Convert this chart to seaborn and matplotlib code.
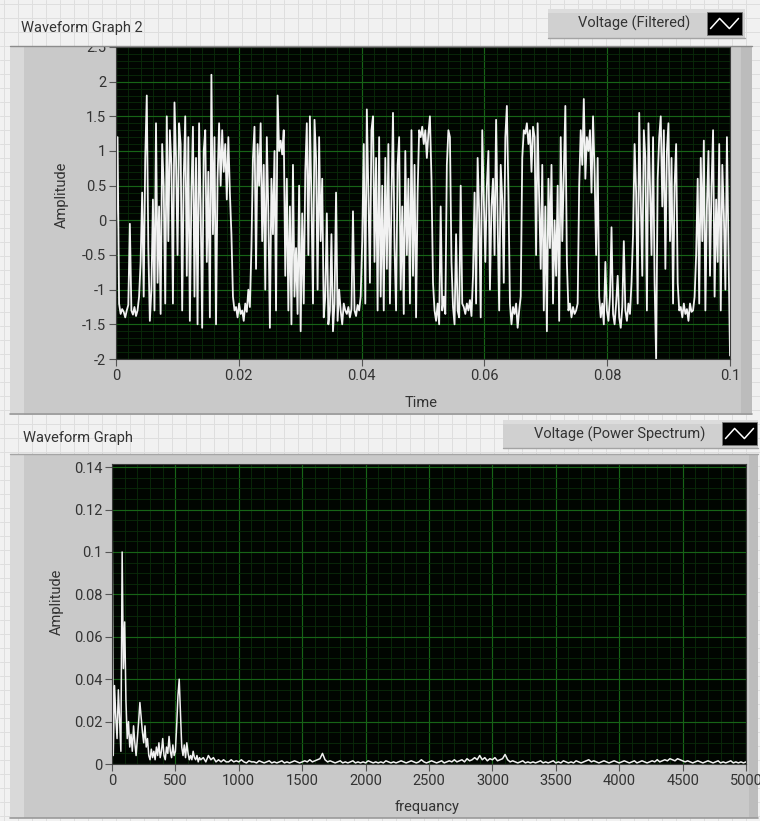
import numpy as np
import matplotlib
matplotlib.use("Agg")
import matplotlib.pyplot as plt
import seaborn as sns
from matplotlib.patches import Rectangle
from matplotlib.lines import Line2D
from matplotlib.ticker import MultipleLocator, FuncFormatter

# ---------------- data ----------------
time_end = 0.1
filtered_voltage = [
    -0.2, 1.2,
    -1.2, -1.35, -1.28, -1.32, -1.4, -1.3, -1.22, -0.05, -1.3, -1.36, -1.25, -1.38, -1.3, -1.1,
    -0.6, 0.4, -1.1, 0.9, 1.8, -0.4, -1.45, -1.0, 0.3, -1.3, 1.4, -0.9, 0.2, -1.35, 1.1, 0.5, -1.2,
    1.5, -0.3, 1.3, 0.8, -1.2, 1.7, 0.9, -0.5, 1.4, 1.1, -1.3, 0.6, 1.5, -0.8, 1.2, -1.45, 0.4,
    1.35, -1.1, 0.9, -1.5, 1.4, 0.2, -1.55, 1.0, 1.3, -0.6, 0.7, -1.4, 2.1, -0.2, 1.2, -1.5, 0.6, 1.4,
    0.5, 1.3, 0.7, 1.1, 0.3, 1.2, 0.4, -0.2,
    -1.1, -1.3, -1.25, -1.4, -1.2, -1.35, -1.3, -1.45, -1.2, -1.32, -1.0, -1.25,
    -0.4, 0.9, 1.35, -0.7, 1.1, 0.5, 1.4, -0.3, 0.8, -1.0, 1.2, 0.1,
    -1.55, 0.6, -0.2, 1.0, -1.3,
    1.8, 1.0, 1.15, 0.95, 1.3,
    -0.8, 0.6, -1.3, 0.2, -1.5, 0.8, -1.1, -0.4, -1.35, 0.5, -1.6, 0.1, -1.2, 0.7,
    1.4, -0.5, 1.5, 0.3, -1.2, 1.45, 0.9, -1.0, 1.2, -0.3, 0.6, -1.4,
    -1.1, 0.1, -1.5, -1.3, -0.2, -1.6, -1.2, 0.4, -1.45, -1.0, -1.3, -1.5,
    -1.2, -1.3, -1.35, -1.25, -1.4, -1.28, 0.13, -1.3, -1.38, -1.22, -1.3, -1.1,
    -0.3, 1.1, -1.2, 1.6, 0.4, -0.9, 1.3, 1.5, -0.6, 0.9, -1.3, 1.2,
    -1.1, 0.5, -1.3, 0.9, -0.7, 1.1, -1.2, 0.3, 1.55, -0.4, -1.3, 0.8, 1.2,
    -1.0, 0.2, -1.35, 1.0, -0.5, 0.6, -1.2, 1.3, -0.8, 0.8, -1.4, 0.4, 1.3,
    1.2, 1.35, 1.1, 1.3, 0.9, 1.25, 1.5, 0.6,
    -0.9, -1.3, -1.45, -1.2, -1.5, 0.2, -1.3, -1.1, -1.35, 0.8, 1.3, 1.2, -0.6, -1.25, -1.5, -0.2,
    -1.3, -1.4, 0.5, -1.2,
    -1.25, -1.35, -1.2, -1.3, -1.15, -1.38,
    -0.8, 0.4, -1.2, 0.9, 0.1, -1.4, 1.3, 0.3, -0.6, 0.5, 1.0, -1.0, 0.2, 0.6, -0.5, 1.45,
    0.0, -1.3, 0.8, 0.3, -0.9, 1.2, 1.65, 0.4,
    -1.2, -1.5, -1.25, -1.35, -1.2, -1.55, -1.3, -1.1,
    0.9, 1.3, 1.25, 1.4, 1.1, 1.3, 0.7, 1.35, 1.2, -0.5, 1.4, 0.3,
    -0.7, 0.8, -1.3, 0.2, -1.6, 0.6, -0.4, 0.8, -1.2, 0.0, -0.8, 0.5, -1.45, 1.2, -0.3, 0.7, 1.65, -0.6,
    -1.3, -1.2, -1.4, -1.25, -1.35, -1.3, -1.2,
    0.5, 1.3, 0.8, 1.75, 0.6, 1.2, 1.0, 1.3, 0.4, 1.5, 0.7, -0.5, 0.9,
    -1.1, -1.4, -1.2, -1.5, -0.6, -1.3, -1.45, -1.1, -0.1, -1.35, -1.5, -1.2, -0.8, -1.4, -1.55,
    -1.25, -0.3, -1.3, -1.45, -1.2, -1.35, -0.9,
    -0.2, 1.1, 0.4, -1.2, 1.55, 0.3, -0.8, 1.3, 0.9, -1.3, 1.4, 0.5, -0.5, 1.2, -0.9,
    -2.0,
    0.6, 1.2, 1.5, 0.2, 1.3, -0.7, 1.0, 1.4, -0.3, 0.9, -1.2, 0.5, 1.1, -0.9,
    -1.3, -1.25, -1.4, -1.2, -1.35, -1.28, -1.45, -1.2, -1.32, -1.3, -1.1,
    -0.5, 0.6, -1.2, 0.9, -0.3, 1.15, -1.3, 0.2, 1.0, -0.8, 0.5, 1.3, -1.1, 0.3, -0.6, 1.1,
    -1.3, 0.8, 0.1, -1.0, 1.2, -0.4,
    -1.95,
]

# power spectrum, 0..700 Hz in 10 Hz steps
spec_low_step = 10
spec_low = [
    0.134, 0.004, 0.037, 0.022, 0.012, 0.035, 0.020, 0.006, 0.100, 0.045,
    0.067, 0.030, 0.012, 0.020, 0.008, 0.014, 0.006, 0.018, 0.010, 0.004,
    0.012, 0.020, 0.029, 0.022, 0.015, 0.010, 0.018, 0.008, 0.012, 0.004,
    0.002, 0.007, 0.003, 0.006, 0.002, 0.008, 0.004, 0.010, 0.003, 0.006,
    0.012, 0.004, 0.002, 0.008, 0.005, 0.013, 0.006, 0.003, 0.009, 0.004,
    0.006, 0.018, 0.032, 0.040, 0.024, 0.008, 0.004, 0.009, 0.003, 0.010,
    0.005, 0.002, 0.004, 0.002, 0.006, 0.003, 0.002, 0.004, 0.001, 0.003,
    0.002,
]
# power spectrum, 720..5000 Hz in 20 Hz steps
spec_high_start = 720
spec_high_step = 20
spec_high = [
    0.003, 0.001, 0.004, 0.002, 0.003, 0.001, 0.002, 0.001, 0.002, 0.001,
    0.001, 0.002, 0.001, 0.0015, 0.001, 0.002, 0.001, 0.0005, 0.0015, 0.001,
    0.001, 0.0005, 0.0015, 0.001, 0.0005, 0.001, 0.0015, 0.0005, 0.001, 0.0005,
    0.001, 0.0015, 0.0005, 0.001, 0.0005, 0.001, 0.0015, 0.001, 0.0005, 0.001,
    0.0015, 0.001, 0.002, 0.001, 0.0015, 0.002, 0.0025, 0.005, 0.002, 0.001,
    0.0015, 0.001, 0.0005, 0.001, 0.0015, 0.0005, 0.001, 0.0005, 0.001, 0.0015,
    0.0005, 0.001, 0.0005, 0.001, 0.0005, 0.0015, 0.001, 0.0005, 0.001, 0.0005,
    0.001, 0.0005, 0.0015, 0.001, 0.0005, 0.001, 0.0005, 0.001, 0.0015, 0.001,
    0.0005, 0.001, 0.0015, 0.001, 0.0005, 0.001, 0.002, 0.001, 0.0005, 0.001,
    0.0015, 0.001, 0.0005, 0.001, 0.0015, 0.0005, 0.001, 0.0015, 0.001, 0.002,
    0.001, 0.0015, 0.002, 0.001, 0.0025, 0.0015, 0.002, 0.003, 0.002, 0.004,
    0.002, 0.003, 0.0015, 0.0025, 0.002, 0.003, 0.0015, 0.002, 0.0025, 0.0045,
    0.002, 0.001, 0.0015, 0.001, 0.0005, 0.001, 0.0015, 0.0005, 0.001, 0.0005,
    0.001, 0.0005, 0.001, 0.0015, 0.0005, 0.001, 0.0005, 0.001, 0.0015, 0.0005,
    0.001, 0.0005, 0.0015, 0.001, 0.0005, 0.001, 0.0005, 0.0015, 0.001, 0.0005,
    0.001, 0.0015, 0.002, 0.001, 0.0015, 0.001, 0.0005, 0.001, 0.0015, 0.001,
    0.0005, 0.001, 0.0015, 0.001, 0.0005, 0.001, 0.0015, 0.001, 0.0005, 0.001,
    0.0015, 0.0005, 0.001, 0.0015, 0.001, 0.0005, 0.001, 0.0015, 0.001, 0.002,
    0.001, 0.0015, 0.002, 0.0015, 0.0025, 0.002, 0.0015, 0.0025, 0.002, 0.0015,
    0.001, 0.0015, 0.001, 0.0005, 0.001, 0.0015, 0.001, 0.0005, 0.001, 0.0015,
    0.001, 0.0005, 0.001, 0.0015, 0.0005, 0.001, 0.0005, 0.001, 0.0015, 0.0005,
    0.001, 0.0005, 0.001, 0.0005, 0.001,
]

top_title = "Waveform Graph 2"
bottom_title = "Waveform Graph"
top_legend = "Voltage (Filtered)"
bottom_legend = "Voltage (Power Spectrum)"

# ---------------- derived axes ----------------
time = np.linspace(0, time_end, len(filtered_voltage))
freq = np.concatenate([spec_low_step * np.arange(len(spec_low)),
                       spec_high_start + spec_high_step * np.arange(len(spec_high))])
power = np.concatenate([spec_low, spec_high])

# ---------------- style ----------------
sns.set_style("dark")
plt.rcParams['font.family'] = ['Roboto', 'DejaVu Sans']

W, H = 760, 821
fig = plt.figure(figsize=(W / 100, H / 100), dpi=100)
BG = '#f1f1f1'
fig.patch.set_facecolor(BG)
TXT = '#333333'


def prect(x0, y0, x1, y1, **kw):
    r = Rectangle((x0 / W, 1 - y1 / H), (x1 - x0) / W, (y1 - y0) / H,
                  transform=fig.transFigure, **kw)
    fig.add_artist(r)
    return r


def pline(xs, ys, **kw):
    ln = Line2D([x / W for x in xs], [1 - y / H for y in ys],
                transform=fig.transFigure, **kw)
    fig.add_artist(ln)
    return ln


# front-panel grid background
GRID_BG = '#dedede'
for gx in range(4, W, 14):
    pline([gx, gx], [0, H], color=GRID_BG, lw=0.7, zorder=-9)
for gy in range(4, H, 14):
    pline([0, W], [gy, gy], color=GRID_BG, lw=0.7, zorder=-9)

# panel bodies
prect(10, 46, 752, 415, facecolor='#c9c9c9', edgecolor='none', zorder=-5)
prect(10, 46, 24, 415, facecolor='#d9d9d9', edgecolor='none', zorder=-4)
prect(741, 46, 752, 415, facecolor='#bcbcbc', edgecolor='none', zorder=-4)
pline([10, 752], [414.5, 414.5], color='#9a9a9a', lw=1.2, zorder=-3)

prect(10, 454, 758, 818, facecolor='#c9c9c9', edgecolor='none', zorder=-5)
prect(10, 454, 24, 818, facecolor='#d9d9d9', edgecolor='none', zorder=-4)
prect(749, 454, 758, 818, facecolor='#bcbcbc', edgecolor='none', zorder=-4)
pline([10, 758], [817.5, 817.5], color='#9a9a9a', lw=1.2, zorder=-3)

# cover strip above the top graph (clips the "2.5" label like the original)
prect(0, 0, W, 46, facecolor=BG, edgecolor='none', zorder=2)
for gx in range(4, W, 14):
    pline([gx, gx], [0, 46], color=GRID_BG, lw=0.7, zorder=2.1)
for gy in range(4, 46, 14):
    pline([0, W], [gy, gy], color=GRID_BG, lw=0.7, zorder=2.1)
pline([10, 752], [46, 46], color='#8c8c8c', lw=1.0, zorder=2.2)
pline([10, 758], [454, 454], color='#a5a5a5', lw=1.0, zorder=-3)

# axes
ax1 = fig.add_axes([116 / W, 1 - 359 / H, 614 / W, 312 / H])
ax2 = fig.add_axes([112 / W, 1 - 764 / H, 634 / W, 300 / H])


def fmt(v, p):
    return f"{round(v, 6) + 0.0:g}"


for ax in (ax1, ax2):
    ax.set_facecolor('#010501')
    ax.set_axisbelow(True)
    ax.grid(which='major', color='#176417', lw=0.85)
    ax.grid(which='minor', color='#0a2c0a', lw=0.6)
    for s in ax.spines.values():
        s.set_color('#3a3a3a')
        s.set_linewidth(0.8)
    ax.tick_params(which='major', direction='out', length=5, width=0.8, color='#555555',
                   labelsize=10.5, labelcolor=TXT, bottom=True, left=True, pad=2)
    ax.tick_params(which='minor', length=0, bottom=False, left=False)
    ax.xaxis.set_major_formatter(FuncFormatter(fmt))
    ax.yaxis.set_major_formatter(FuncFormatter(fmt))

sns.lineplot(x=time, y=filtered_voltage, ax=ax1, color='#f2f2f2', linewidth=1.3, estimator=None)
ax1.set_xlim(0, 0.1)
ax1.set_ylim(-2, 2.5)
ax1.xaxis.set_major_locator(MultipleLocator(0.02))
ax1.xaxis.set_minor_locator(MultipleLocator(0.002))
ax1.yaxis.set_major_locator(MultipleLocator(0.5))
ax1.yaxis.set_minor_locator(MultipleLocator(0.1))
ax1.set_xlabel("Time", fontsize=10.5, color=TXT, va='center')
ax1.set_ylabel("Amplitude", fontsize=10.5, color=TXT, va='center', ha='center')
ax1.xaxis.set_label_coords(0.497, -0.141)
ax1.yaxis.set_label_coords(-0.088, 0.525)

sns.lineplot(x=freq, y=power, ax=ax2, color='#f0f0f0', linewidth=1.1, estimator=None)
ax2.set_xlim(0, 5000)
ax2.set_ylim(0, 0.1415)
ax2.xaxis.set_major_locator(MultipleLocator(500))
ax2.xaxis.set_minor_locator(MultipleLocator(100))
ax2.yaxis.set_major_locator(MultipleLocator(0.02))
ax2.yaxis.set_minor_locator(MultipleLocator(0.005))
ax2.set_xlabel("frequancy", fontsize=10.5, color=TXT, va='center')
ax2.set_ylabel("Amplitude", fontsize=10.5, color=TXT, va='center', ha='center')
ax2.xaxis.set_label_coords(0.497, -0.143)
ax2.yaxis.set_label_coords(-0.087, 0.54)

# graph captions
fig.text(21 / W, 1 - 28 / H, top_title, fontsize=10.5, color=TXT, ha='left', va='center', zorder=5)
fig.text(23 / W, 1 - 438 / H, bottom_title, fontsize=10.5, color=TXT, ha='left', va='center', zorder=5)


# plot legends
def legend_box(x0, y0, x1, y1, sx0, sx1, sy0, sy1, text, tx):
    prect(x0, y0, x1, y1, facecolor='#d0d0d0', edgecolor='none', zorder=3)
    prect(x0, y0, x1, y0 + 4, facecolor='#dcdcdc', edgecolor='none', zorder=3.1)
    pline([x0, x1], [y1, y1], color='#a3a3a3', lw=1.0, zorder=3.2)
    prect(sx0, sy0, sx1, sy1, facecolor='black', edgecolor='#777777', lw=0.6, zorder=3.3)
    w, h = sx1 - sx0, sy1 - sy0
    gx = [sx0 + f * w for f in (0.1, 0.36, 0.64, 0.9)]
    gy = [sy0 + f * h for f in (0.72, 0.28, 0.72, 0.28)]
    pline(gx, gy, color='white', lw=1.1, zorder=3.4)
    fig.text(tx / W, 1 - (y0 + y1) / 2 / H, text, fontsize=10.5, color=TXT,
             ha='right', va='center', zorder=4)


legend_box(548, 9, 745, 38, 707, 742, 12, 35, top_legend, 690)
legend_box(503, 420, 758, 448, 722, 757, 422, 445, bottom_legend, 705)

fig.savefig("out.png", dpi=100, facecolor=fig.get_facecolor())
